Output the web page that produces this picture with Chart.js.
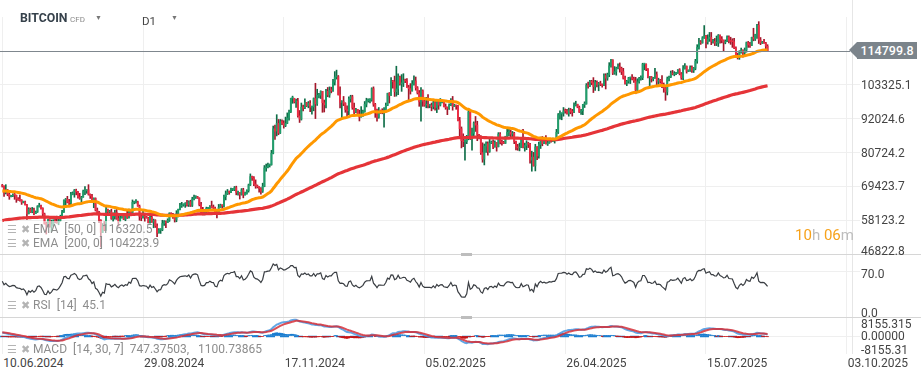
<!DOCTYPE html>
<html><head><meta charset="utf-8">
<script src="https://cdn.jsdelivr.net/npm/chart.js@4.4.1/dist/chart.umd.min.js"></script>
<style>
html,body{margin:0;padding:0;background:#fff;width:921px;height:380px;overflow:hidden;font-family:Roboto,"Noto Sans",sans-serif;}
#wrap{position:relative;width:921px;height:380px;}
canvas{position:absolute;left:0;}
.ov{position:absolute;white-space:nowrap;line-height:14px;}
.leg{position:absolute;left:4px;background:rgba(255,255,255,0.6);}
.li{position:absolute;white-space:nowrap;font-size:12px;color:#8d8d8d;line-height:14px;}
.ic{color:#b4b4b4;font-size:11px;}
.sep{position:absolute;left:0;width:921px;height:1px;background:#d6d6d6;}
.hdl{position:absolute;left:461px;width:11px;height:3px;background:#bdbdbd;}
</style></head><body>
<div id="wrap">
<canvas id="cPrice" width="921" height="255" style="top:0px"></canvas>
<canvas id="cRsi" width="921" height="62" style="top:255px"></canvas>
<canvas id="cMacd" width="921" height="36" style="top:318px"></canvas>
</div>
<script>
// ---------------- DATA (daily candles, prices in thousands USD) ----------------
const tickIdx = [0, 80, 160, 240, 320, 400, 480];
const tickLabels = ['10.06.2024','29.08.2024','17.11.2024','05.02.2025','26.04.2025','15.07.2025','03.10.2025'];
const priceTicks = [46822.8, 58123.2, 69423.7, 80724.2, 92024.6, 103325.1];
const rsiTicks = [70, 0];
const rsiTickLabels = ['70.0', '0.0'];
const macdTicks = [8155.315, 0, -8155.315];
const macdTickLabels = ['8155.315', '0.00000', '-8155.31'];

const firstOpenK = 69.6;
const closeK = [
69.5,67.3,68.2,66.8,66.0,66.2,66.6,66.5,65.2,64.9,64.8,64.1,64.3,63.2,60.3,61.8,60.9,61.6,60.3,60.9,62.7,
62.9,62.1,60.2,57.0,56.7,58.2,55.9,56.7,57.9,57.7,57.3,57.9,59.2,60.8,64.8,65.1,64.1,63.9,66.7,67.2,68.2,67.6,65.9,65.4,65.8,67.9,68.0,68.3,66.8,66.2,64.6,
65.4,61.5,60.7,58.1,54.0,56.0,55.0,61.7,60.9,60.9,58.7,59.4,60.6,58.7,57.6,58.9,59.5,58.4,59.5,59.0,61.2,60.4,64.1,64.2,64.2,62.8,59.4,59.0,59.4,59.1,58.9,
57.3,59.1,57.5,58.0,56.2,53.9,54.8,54.9,57.0,57.6,57.3,58.1,60.5,60.0,59.2,58.2,60.3,61.8,62.9,63.2,63.4,63.6,63.3,64.3,63.1,65.2,65.8,65.9,65.6,63.3,
60.8,60.6,60.8,62.1,62.1,62.8,62.3,62.2,60.6,60.3,62.4,63.2,62.9,66.0,67.0,67.6,67.4,68.4,68.4,69.0,67.4,67.4,66.7,68.2,66.6,67.0,68.0,69.9,72.7,72.3,70.2,
69.5,69.3,68.7,67.8,69.4,75.6,75.9,76.5,76.7,80.5,88.7,87.9,90.5,87.3,91.1,90.6,89.8,90.5,92.3,94.3,98.9,98.9,97.7,98.0,93.0,91.9,95.9,95.6,97.5,96.4,
97.2,95.9,96.0,98.8,97.0,99.9,99.9,101.2,97.4,96.7,101.2,100.0,101.5,101.4,104.3,106.0,106.1,100.0,97.5,97.8,97.2,95.1,94.7,98.7,99.4,95.8,94.2,95.2,93.4,92.6,93.4,
94.4,96.9,98.1,98.2,98.3,102.1,96.9,95.0,92.5,94.7,94.6,94.5,94.5,96.5,100.5,99.8,104.5,104.4,101.1,102.0,106.1,103.7,104.0,104.8,104.7,102.6,102.1,101.3,103.7,104.7,102.4,
100.7,97.7,101.4,97.9,96.6,96.6,96.5,96.5,96.1,97.4,95.8,97.9,96.6,97.5,97.6,96.1,95.8,95.5,96.6,98.3,96.1,96.6,96.3,91.4,88.7,84.7,84.4,84.4,
86.0,94.3,86.1,87.2,90.6,89.9,86.7,86.2,80.7,78.5,82.9,83.7,81.1,83.9,84.3,82.6,84.1,82.7,86.9,84.2,84.0,83.8,86.1,87.5,87.5,86.9,87.2,84.4,82.6,82.3,82.5,
85.2,82.5,83.1,83.9,83.5,78.2,79.2,76.3,82.6,79.6,83.4,85.3,83.7,84.5,83.6,84.0,84.9,84.5,85.1,85.2,87.5,93.4,93.7,93.9,94.7,94.6,93.8,95.0,94.3,94.2,
96.5,96.9,95.9,94.3,94.7,96.8,97.0,103.2,102.9,104.6,104.1,102.8,104.2,103.5,103.7,103.5,103.2,106.5,105.6,106.8,109.7,111.7,107.3,107.8,109.0,109.4,108.9,107.8,105.6,103.9,104.6,
105.7,105.8,105.4,104.7,101.6,104.4,105.6,105.8,110.3,110.3,108.7,105.9,106.1,105.4,105.6,106.8,104.6,104.9,104.6,103.3,102.2,101.0,105.4,106.0,107.3,106.9,107.1,107.3,108.4,107.1,
105.7,108.8,109.6,107.9,108.2,109.2,108.2,108.9,111.3,115.9,117.5,117.4,119.1,119.8,117.7,118.7,119.3,117.9,117.9,117.3,117.4,119.9,118.7,118.3,117.6,117.9,119.4,118.0,117.9,117.8,115.7,
113.3,112.5,114.2,115.0,114.1,115.0,117.5,116.7,116.5,119.3,118.7,120.2,123.3,118.4,117.4,117.5,117.4,116.3,114.7998
];
const highK = [
70.1,69.6,70.0,68.4,67.3,66.4,66.9,67.2,66.5,65.7,66.5,65.0,64.5,64.5,63.4,62.3,62.2,62.4,62.2,61.2,63.0,
63.8,63.2,62.3,60.5,57.5,58.5,58.3,58.2,58.3,59.4,59.5,58.5,59.8,61.4,64.9,65.4,66.1,65.1,67.4,67.6,68.4,68.5,67.8,67.1,66.1,68.2,69.4,68.3,70.0,66.9,66.8,
65.6,65.6,62.2,61.1,58.3,57.0,57.7,62.7,61.8,61.4,61.8,60.6,61.5,61.7,59.8,59.8,59.7,60.2,59.6,61.4,61.8,61.4,64.9,64.5,65.0,64.5,63.2,60.2,61.1,59.9,59.4,
59.1,59.4,59.8,58.5,58.3,56.9,55.3,55.3,58.1,58.0,57.9,58.6,60.6,60.6,60.4,59.2,61.3,61.8,63.8,64.1,63.6,64.0,64.8,64.6,64.8,65.8,66.5,66.3,66.1,65.6,
64.1,62.4,61.5,62.5,62.4,63.0,64.5,63.2,62.5,61.3,63.4,63.5,63.3,66.5,67.9,68.4,67.9,68.9,68.7,69.4,69.5,67.9,67.4,68.7,68.8,67.5,68.3,70.2,73.6,72.9,72.7,
71.6,69.9,69.4,69.0,70.5,76.4,76.9,77.2,76.9,81.5,89.6,89.9,93.4,91.8,91.8,91.7,91.4,92.6,94.0,94.9,98.9,99.6,98.8,98.6,98.9,94.8,97.3,96.6,98.7,97.5,
97.8,98.1,96.3,99.0,103.9,101.9,100.5,101.4,101.2,98.3,101.9,102.5,102.7,102.6,105.2,107.8,108.3,106.5,102.7,98.1,99.5,97.4,96.4,99.4,99.9,99.9,97.3,95.5,95.2,94.9,96.1,
94.9,97.8,98.9,98.7,98.8,102.4,102.7,97.2,95.3,95.8,94.9,95.4,95.8,97.3,100.6,100.8,105.8,104.9,106.3,109.6,107.1,106.3,106.8,107.1,105.3,105.5,103.2,103.8,104.8,106.4,106.0,
102.8,101.5,102.5,101.7,99.0,99.2,100.1,96.9,97.3,98.3,98.5,98.1,98.0,98.8,97.9,97.7,97.0,96.0,97.0,98.8,99.5,96.9,96.6,96.5,92.5,89.3,87.0,85.1,
86.5,95.0,94.4,88.9,91.0,92.8,91.2,86.8,86.4,84.0,83.6,84.3,84.3,85.2,84.6,85.0,84.7,84.1,87.4,87.4,84.8,84.5,86.2,88.8,88.5,88.3,87.8,87.5,84.6,83.5,83.9,
85.5,88.5,83.9,84.7,84.2,83.8,81.2,80.8,83.5,82.7,84.2,85.9,86.1,85.8,86.4,85.5,85.5,85.1,85.6,85.3,88.5,93.8,94.7,94.0,95.8,95.3,95.2,95.6,95.5,95.2,
97.4,97.9,96.9,96.3,95.2,96.9,97.7,103.8,104.3,104.9,104.9,105.8,104.9,104.7,104.2,104.6,103.7,107.1,107.1,107.3,110.8,111.9,111.8,109.5,109.3,110.4,110.7,109.3,108.9,106.3,104.9,
105.9,105.9,106.8,106.0,105.9,105.4,105.9,106.4,110.6,110.4,110.4,108.8,106.2,106.2,105.9,108.9,107.7,105.6,105.2,106.5,104.0,103.0,106.0,106.3,108.0,108.2,107.8,107.6,108.5,108.8,
107.5,109.8,110.5,109.7,108.4,109.7,109.7,109.2,111.9,116.8,118.9,118.2,119.5,123.2,119.9,120.1,120.9,120.9,118.6,118.9,119.7,120.2,120.1,119.5,118.4,118.4,119.8,119.8,119.3,118.8,118.9,
116.1,114.0,114.8,115.7,115.1,115.7,117.7,117.9,117.6,119.3,122.3,120.3,123.6,124.5,119.2,117.9,118.6,117.6,116.8
];
const lowK = [
69.2,66.1,66.9,66.3,65.1,65.9,66.0,65.1,64.1,64.7,64.5,63.4,63.9,63.2,58.4,60.2,60.7,60.6,60.0,60.3,60.7,
62.5,61.8,59.4,56.8,53.5,56.0,55.8,54.3,56.3,57.2,57.1,56.6,57.8,59.2,60.7,62.4,63.9,63.3,63.3,66.6,65.8,66.6,65.5,65.1,63.5,65.8,66.7,67.1,66.5,65.4,64.5,
62.3,61.2,59.9,57.3,49.2,54.0,54.6,54.7,59.6,60.3,58.4,57.6,58.5,58.4,56.1,57.6,58.8,58.3,57.9,58.7,58.8,59.8,60.4,63.6,63.8,62.8,58.1,57.9,58.8,57.8,58.8,
57.2,57.1,57.4,55.6,55.7,52.6,53.8,53.7,54.6,56.4,55.6,57.3,57.7,59.5,58.7,57.5,57.6,59.2,61.6,62.4,62.8,62.4,62.8,62.7,62.7,62.7,64.9,65.4,65.4,62.9,
60.2,59.9,59.9,60.5,61.7,61.9,62.2,61.9,60.5,58.9,60.1,62.4,62.1,62.5,64.9,66.7,66.8,67.3,68.0,68.0,66.6,66.5,65.2,66.5,65.6,66.5,66.8,67.5,69.7,71.4,69.7,
68.8,68.9,67.5,66.8,67.4,69.3,74.5,75.6,75.9,76.5,80.3,85.1,86.3,86.7,87.1,90.1,88.9,89.4,90.4,91.6,94.1,97.2,97.3,95.8,92.6,90.8,91.6,94.7,95.4,96.1,
95.7,94.4,93.6,94.7,92.1,96.5,99.0,98.8,94.2,94.3,95.7,99.4,99.2,100.7,101.2,103.3,105.3,100.0,95.7,92.2,96.4,94.2,92.4,93.4,97.6,95.2,93.3,94.1,93.1,91.3,92.6,
92.8,94.2,96.0,97.6,97.3,97.9,96.2,92.5,91.2,92.2,93.8,93.7,89.2,94.3,96.4,97.3,99.8,102.3,99.5,99.6,100.1,103.3,101.2,102.8,104.1,102.5,97.8,100.3,101.3,103.3,101.6,
100.3,96.2,91.2,96.2,96.2,95.7,95.7,95.7,94.7,95.3,94.9,94.1,95.2,96.3,97.3,96.0,95.2,93.4,95.2,96.4,94.9,96.1,95.2,91.3,86.1,82.3,82.7,78.2,
83.7,85.0,85.1,81.5,86.3,87.8,84.7,85.3,80.1,77.5,76.6,80.8,79.9,80.8,83.7,82.0,82.5,81.2,82.6,83.6,83.2,83.7,83.8,85.5,86.3,85.9,85.9,83.7,81.6,81.5,81.3,
82.4,82.3,81.2,81.7,82.4,77.2,74.5,76.2,74.6,78.4,78.9,82.1,83.0,83.7,83.6,83.1,83.8,84.2,84.5,83.9,85.1,87.1,91.9,91.7,92.9,93.9,93.6,92.9,93.7,92.9,
94.1,96.3,95.7,94.1,93.5,93.4,95.8,96.9,102.3,102.8,103.4,100.8,101.5,102.7,101.4,103.1,102.6,103.1,102.0,104.9,106.1,109.3,106.8,106.9,106.6,108.7,107.6,106.8,105.3,103.6,103.1,
103.9,103.8,105.0,104.2,100.4,101.1,103.9,104.9,105.1,108.4,108.1,105.7,102.7,104.3,104.7,105.5,103.4,103.5,103.9,102.4,100.9,98.2,100.0,104.7,105.8,106.7,106.4,106.8,107.2,106.7,
105.2,105.1,108.6,107.3,107.8,107.9,107.5,107.5,108.4,110.6,115.3,116.9,117.3,118.9,115.7,117.0,117.9,116.8,117.3,116.5,116.5,116.2,117.3,117.4,114.7,117.1,117.8,117.4,116.9,115.9,115.5,
112.7,112.0,111.9,114.0,112.6,113.4,114.3,115.9,115.9,116.5,118.1,118.2,118.9,117.2,116.8,117.2,117.2,114.7,114.6
];

const ema50StartK = 67.8, ema200StartK = 57.9;
const ema14StartK = 68.9, ema30StartK = 67.3, signalStartK = 1.7;
const rsiStartGainK = 0.75, rsiStartLossK = 0.65;

// legend texts
const emaLegend50 = 'EMA  [50, 0]  116320.5';
const emaLegend200 = 'EMA  [200, 0]  104223.9';
const rsiLegend = 'RSI  [14]  45.1';
const macdLegend = 'MACD  [14, 30, 7]  747.37503,   1100.73865';

// ---------------- BUILD ----------------
const FONT = 'Roboto, "Noto Sans", sans-serif';
Chart.defaults.font.family = FONT;
const wrap = document.getElementById('wrap');
const N = closeK.length;
const close = closeK.map(v => v * 1000);
const high = highK.map(v => v * 1000);
const low = lowK.map(v => v * 1000);
const open = close.map((c, i) => i === 0 ? firstOpenK * 1000 : close[i - 1]);
const lastClose = close[N - 1];

function ema(src, period, start) { const k = 2 / (period + 1); let e = start; return src.map(v => (e = v * k + e * (1 - k))); }
function rsi(src, period, prev, g0, l0) {
  let ag = g0, al = l0, p = prev;
  return src.map(v => { const d = v - p; p = v; ag = (ag * (period - 1) + Math.max(d, 0)) / period; al = (al * (period - 1) + Math.max(-d, 0)) / period; return 100 - 100 / (1 + ag / al); });
}
const ema50 = ema(close, 50, ema50StartK * 1000);
const ema200 = ema(close, 200, ema200StartK * 1000);
const ema14 = ema(close, 14, ema14StartK * 1000);
const ema30 = ema(close, 30, ema30StartK * 1000);
const macd = ema14.map((v, i) => v - ema30[i]);
const signal = ema(macd, 7, signalStartK * 1000);
const hist = macd.map((v, i) => v - signal[i]);
const rsiVals = rsi(closeK, 14, firstOpenK, rsiStartGainK, rsiStartLossK);

const X_MIN = -1.3, X_MAX = 483;
function xScale() {
  return { type: 'linear', min: X_MIN, max: X_MAX, offset: false,
    afterBuildTicks: s => { s.ticks = tickIdx.map(v => ({ value: v })); },
    afterFit: s => { s.height = 0; },
    ticks: { display: false }, grid: { color: '#efefef', drawTicks: false, offset: false }, border: { display: false } };
}
function yScale(min, max, gridVals) {
  return { position: 'right', min, max,
    afterBuildTicks: s => { s.ticks = gridVals.map(v => ({ value: v })); },
    afterFit: s => { s.width = 69; },
    ticks: { display: false }, grid: { color: '#efefef', drawTicks: true, tickLength: 8 }, border: { display: true, color: '#e6e6e6' } };
}
const baseOpts = { responsive: false, animation: false, events: [], layout: { padding: 0 },
  plugins: { legend: { display: false }, tooltip: { enabled: false } } };

const upBody = '#1f9e6b', upWick = '#0f6e48', dnBody = '#ee2c43', dnWick = '#a3172b';
const isUp = close.map((c, i) => c >= open[i]);

const priceLine = { id: 'priceLine', afterDatasetsDraw(c) {
  const y = Math.round(c.scales.y.getPixelForValue(lastClose)) + 0.5, ctx = c.ctx;
  ctx.save(); ctx.strokeStyle = '#7f878e'; ctx.lineWidth = 1; ctx.beginPath(); ctx.moveTo(0, y); ctx.lineTo(c.chartArea.right - 2, y); ctx.stroke(); ctx.restore();
} };

const priceChart = new Chart(document.getElementById('cPrice'), {
  type: 'bar',
  data: { datasets: [
    { type: 'line', data: ema50.map((v, i) => ({ x: i, y: v })), borderColor: '#ff9800', borderWidth: 3, pointRadius: 0, order: 1 },
    { type: 'line', data: ema200.map((v, i) => ({ x: i, y: v })), borderColor: '#e53438', borderWidth: 3.2, pointRadius: 0, order: 2 },
    { data: close.map((c, i) => ({ x: i, y: [open[i], c] })), backgroundColor: isUp.map(u => u ? upBody : dnBody), barThickness: 1.2, minBarLength: 1, grouped: false, order: 3 },
    { data: close.map((c, i) => ({ x: i, y: [low[i], high[i]] })), backgroundColor: isUp.map(u => u ? upWick : dnWick), barThickness: 1, grouped: false, order: 4 }
  ] },
  options: Object.assign({}, baseOpts, { scales: { x: xScale(), y: yScale(46488.5, 131743, priceTicks) } }),
  plugins: [priceLine]
});

const rsiChart = new Chart(document.getElementById('cRsi'), {
  type: 'line',
  data: { datasets: [ { data: rsiVals.map((v, i) => ({ x: i, y: v })), borderColor: '#3a3e43', borderWidth: 1.2, pointRadius: 0 } ] },
  options: Object.assign({}, baseOpts, { scales: { x: xScale(), y: yScale(-10.77, 100.5, [70]) } })
});

const zeroLine = { id: 'zeroLine', beforeDatasetsDraw(c) {
  const y = Math.round(c.scales.y.getPixelForValue(0)) + 0.5, ctx = c.ctx;
  const xEnd = c.scales.x.getPixelForValue(N - 1);
  ctx.save(); ctx.strokeStyle = '#1f7fd0'; ctx.lineWidth = 1.5; ctx.setLineDash([9, 5]); ctx.beginPath(); ctx.moveTo(0, y); ctx.lineTo(xEnd, y); ctx.stroke(); ctx.restore();
} };

const macdChart = new Chart(document.getElementById('cMacd'), {
  type: 'bar',
  data: { datasets: [
    { type: 'line', data: signal.map((v, i) => ({ x: i, y: v })), borderColor: 'rgba(214,48,56,0.85)', borderWidth: 2, pointRadius: 0, order: 1 },
    { type: 'line', data: macd.map((v, i) => ({ x: i, y: v })), borderColor: 'rgba(70,150,225,0.85)', borderWidth: 2, pointRadius: 0, order: 2 },
    { data: hist.map((v, i) => ({ x: i, y: v })), backgroundColor: hist.map(v => v >= 0 ? '#1a7dd0' : '#c81414'), barThickness: 1.8, grouped: false, order: 3 }
  ] },
  options: Object.assign({}, baseOpts, { scales: { x: xScale(), y: yScale(-8155.315, 8155.315, [0, -8155.315]) } }),
  plugins: [zeroLine]
});

// ---------------- TEXT OVERLAYS ----------------
function add(html, css, cls) { const d = document.createElement('div'); d.className = cls || 'ov'; d.innerHTML = html; Object.assign(d.style, css); wrap.appendChild(d); return d; }
function txt(t, css) { const d = document.createElement('div'); d.className = 'ov'; d.textContent = t; Object.assign(d.style, css); wrap.appendChild(d); return d; }

// header strip & title
add('', { left: '0px', top: '0px', width: '851px', height: '17px', background: '#fff' });
txt('BITCOIN', { left: '20px', top: '11px', fontSize: '12.3px', fontWeight: 'bold', color: '#36414b' });
txt('CFD', { left: '70px', top: '13px', fontSize: '8px', color: '#8a8a8a' });
txt('▼', { left: '95px', top: '11px', fontSize: '7px', color: '#777' });
txt('D1', { left: '142px', top: '14px', fontSize: '11.5px', color: '#444' });
txt('▼', { left: '171px', top: '11px', fontSize: '7px', color: '#777' });

// separators between panels
add('', { top: '254px' }, 'sep'); add('', { top: '317px' }, 'sep');
add('', { top: '253px' }, 'hdl'); add('', { top: '316px' }, 'hdl');

// right axis labels
function axisLabels(chart, top, vals, labels, dy) {
  const s = chart.scales.y, a = chart.chartArea;
  vals.forEach((v, i) => {
    let y = s.getPixelForValue(v) + dy; y = Math.max(a.top + 6, Math.min(a.bottom - 4, y));
    txt(labels[i], { left: '861px', top: (top + y - 7) + 'px', fontSize: '12px', color: '#444' });
  });
}
axisLabels(priceChart, 0, priceTicks, priceTicks.map(v => v.toFixed(1)), 0);
axisLabels(rsiChart, 255, rsiTicks, rsiTickLabels, 2);
axisLabels(macdChart, 318, macdTicks, macdTickLabels, 0);

// x labels
tickIdx.forEach((v, i) => {
  const x = macdChart.scales.x.getPixelForValue(v);
  txt(tickLabels[i], { left: (x + 1) + 'px', top: '356px', fontSize: '12px', color: '#444' });
});

// current price tag
const py = priceChart.scales.y.getPixelForValue(lastClose);
add('', { left: '849px', top: (py - 8.5) + 'px', width: '0px', height: '0px', borderTop: '8.5px solid transparent', borderBottom: '8.5px solid transparent', borderRight: '8px solid #7b848b' });
txt((lastClose).toFixed(1), { left: '857px', top: (py - 8.5) + 'px', width: '60px', height: '17px', lineHeight: '17px', textAlign: 'center', background: '#7b848b', color: '#fff', fontSize: '12.5px', fontWeight: '500' });

// countdown
add('<span style="color:#f7a21b">10</span><span style="color:#bdbdbd">h</span> <span style="color:#f7a21b">06</span><span style="color:#bdbdbd">m</span>', { left: '795px', top: '227px', fontSize: '15px', lineHeight: '16px' });

// legends
function legendBox(top, w, h) { add('', { top: top + 'px', width: w + 'px', height: h + 'px' }, 'leg'); }
legendBox(221, 139, 31);
legendBox(298, 88, 15);
legendBox(342, 226, 14);
function legRow(text, cy) {
  const d = document.createElement('div'); d.className = 'li'; d.style.left = '7px'; d.style.top = (cy - 7) + 'px';
  const a = document.createElement('span'); a.className = 'ic'; a.textContent = '☰'; a.style.marginRight = '4px';
  const b = document.createElement('span'); b.className = 'ic'; b.textContent = '✖'; b.style.marginRight = '3px';
  const t = document.createElement('span'); t.textContent = text; t.style.whiteSpace = 'pre';
  d.appendChild(a); d.appendChild(b); d.appendChild(t); wrap.appendChild(d);
}
legRow(emaLegend50, 229);
legRow(emaLegend200, 243);
legRow(rsiLegend, 305);
legRow(macdLegend, 349);
</script>
</body></html>
